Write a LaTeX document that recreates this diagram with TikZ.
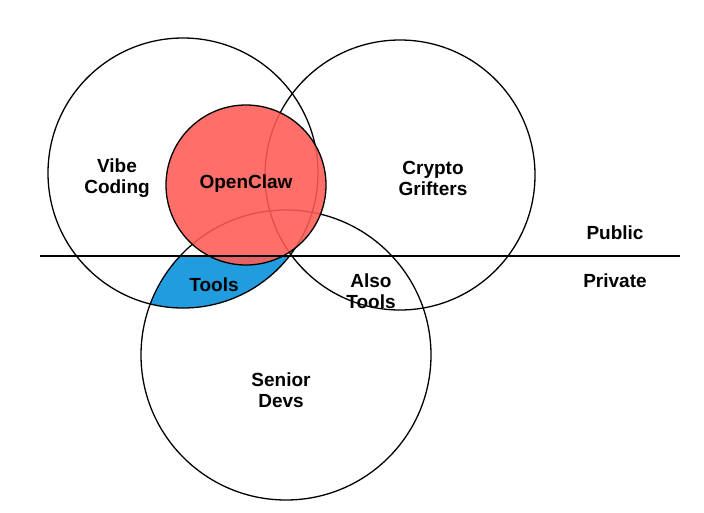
\documentclass[tikz,border=0pt]{standalone}
\usepackage{fontspec}
\setmainfont{Liberation Sans}
\begin{document}
\begin{tikzpicture}[x=1pt,y=-1pt,
  ring/.style={draw=black,line width=1.3pt},
  lab/.style={font=\bfseries\fontsize{19}{21}\selectfont,align=center}]
\useasboundingbox (0,0) rectangle (704,512);
\coordinate (cv) at (183,173);
\coordinate (cc) at (400,175);
\coordinate (cs) at (286,355);
\coordinate (co) at (246,185);
% blue region
\begin{scope}
  \clip (cv) circle (135);
  \clip (cs) circle (145);
  \clip (0,256) rectangle (704,512);
  \fill[cyan!80!blue!90] (0,0) rectangle (704,512);
\end{scope}
\draw[ring] (cv) circle (135);
\draw[ring] (cc) circle (135);
\draw[ring] (cs) circle (145);
\fill[red!65!white!95!orange, fill opacity=0.88] (co) circle (80);
\draw[ring] (co) circle (80);
\coordinate (l1) at (40,256);
\coordinate (l2) at (680,256);
\draw[line width=1.3pt] (l1) -- (l2);
\node[lab] (vibe) at (117,178) {Vibe\\Coding};
\node[lab] (oc) at (246,184) {OpenClaw};
\node[lab] (cg) at (433,178) {Crypto\\Grifters};
\node[lab] (pub) at (615,233) {Public};
\node[lab] (pri) at (615,281) {Private};
\node[lab] (tl) at (214,285) {Tools};
\node[lab] (at) at (371,291) {Also\\Tools};
\node[lab] (sd) at (281,390) {Senior\\Devs};
\end{tikzpicture}
\end{document}
